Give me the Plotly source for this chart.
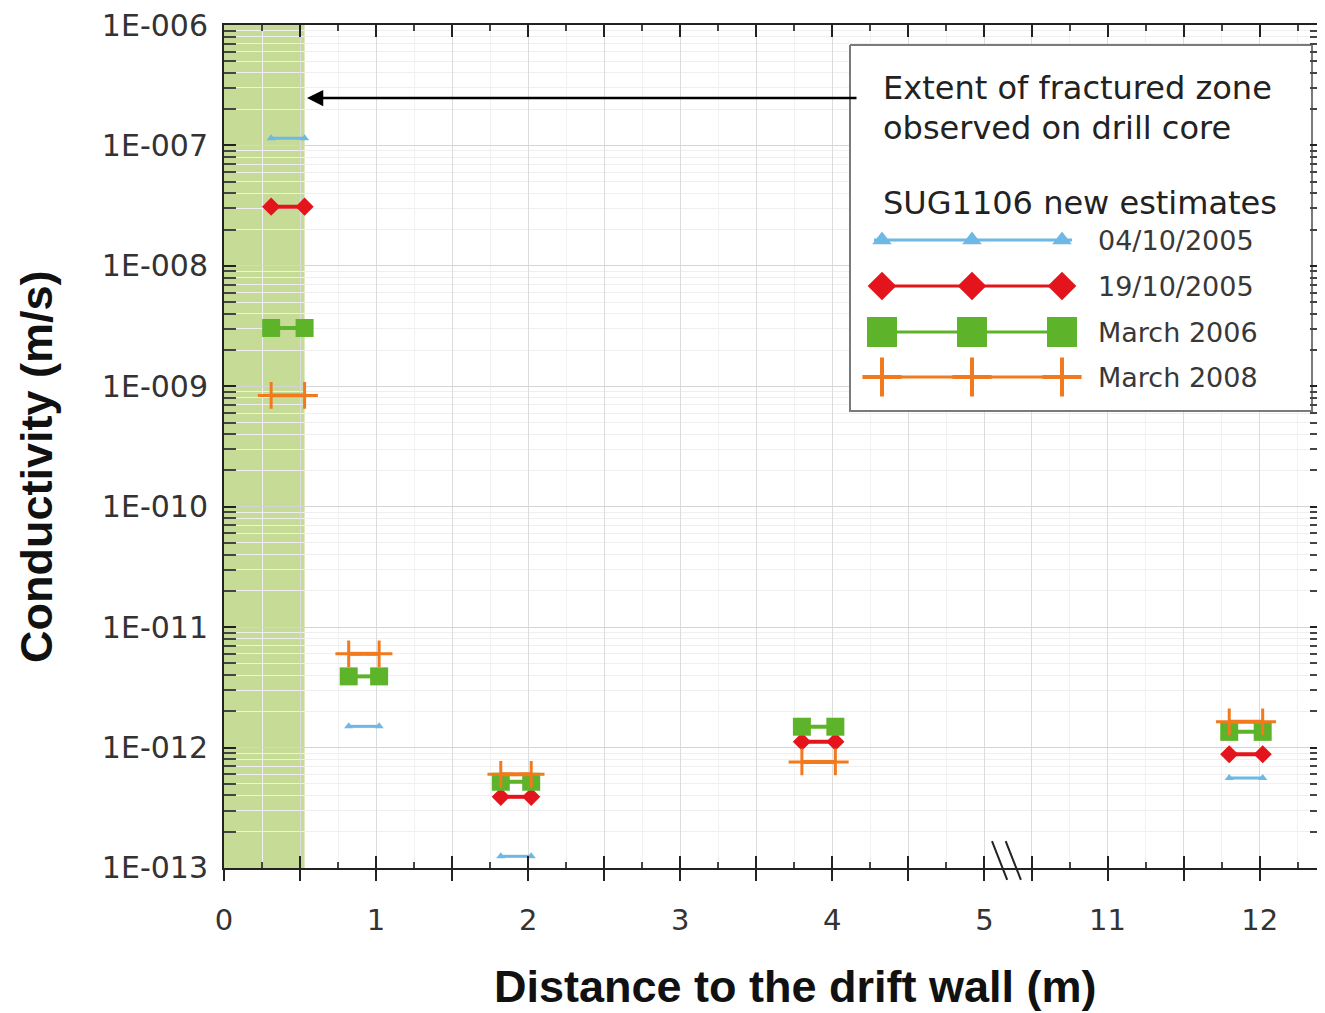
import plotly.graph_objects as go

# ---------------- data ----------------
seg_start = [0.31, 0.82, 1.82, 3.80, 11.80]   # m, start of each test interval
seg_end   = [0.53, 1.02, 2.02, 4.02, 12.02]   # m, end of each test interval

k_0410_2005 = [1.15e-7, 1.5e-12, 1.25e-13, None, 5.6e-13]
k_1910_2005 = [3.1e-8, None, 3.9e-13, 1.12e-12, 8.8e-13]
k_mar_2006  = [3.05e-9, 3.9e-12, 5.2e-13, 1.49e-12, 1.35e-12]
k_mar_2008  = [8.4e-10, 6.0e-12, 6.0e-13, 7.6e-13, 1.64e-12]

series_names = ["04/10/2005", "19/10/2005", "March 2006", "March 2008"]

fracture_zone = [0.0, 0.53]

x_major = [0, 0.5, 1, 1.5, 2, 2.5, 3, 3.5, 4, 4.5, 5, 10.5, 11, 11.5, 12]
x_labels = {0: "0", 1: "1", 2: "2", 3: "3", 4: "4", 5: "5", 11: "11", 12: "12"}
x_minor = [0.25, 0.75, 1.25, 1.75, 2.25, 2.75, 3.25, 3.75, 4.25, 4.75,
           10.75, 11.25, 11.75, 12.25]

y_decades = [-13, -12, -11, -10, -9, -8, -7, -6]
y_labels = ["1E-013", "1E-012", "1E-011", "1E-010", "1E-009", "1E-008", "1E-007", "1E-006"]

# ---------------- broken x axis (5 ... 10.5 squeezed) ----------------
def xpos(d):
    return d if d <= 5.2 else d - 5.19

FONT = "DejaVu Sans"
BLUE, RED, GREEN, ORANGE = "#6db8e4", "#e3141c", "#5db42a", "#f27a1e"

styles = [
    dict(color=BLUE, symbol="triangle-up", size=8, lw=3, mlw=0, lsize=17, lmlw=0),
    dict(color=RED, symbol="diamond", size=14, lw=4, mlw=0, lsize=22, lmlw=0),
    dict(color=GREEN, symbol="square", size=18, lw=4, mlw=0, lsize=30, lmlw=0),
    dict(color=ORANGE, symbol="cross-thin", size=19, lw=4, mlw=3, lsize=28, lmlw=4),
]
all_vals = [k_0410_2005, k_1910_2005, k_mar_2006, k_mar_2008]

fig = go.Figure()

for name, vals, st in zip(series_names, all_vals, styles):
    xs, ys = [], []
    for s, e, v in zip(seg_start, seg_end, vals):
        if v is None:
            continue
        xs += [xpos(s), xpos(e), None]
        ys += [v, v, None]
    fig.add_trace(go.Scatter(
        x=xs, y=ys, mode="lines+markers", name=name, showlegend=False,
        line=dict(color=st["color"], width=st["lw"]),
        marker=dict(symbol=st["symbol"], size=st["size"], color=st["color"], opacity=1,
                    line=dict(color=st["color"], width=st["mlw"])),
    ))

# dummy trace for overlay axis drawing outward ticks
fig.add_trace(go.Scatter(x=[None], y=[None], xaxis="x3", yaxis="y", showlegend=False))

# ---------------- custom legend (page-pixel coordinates on x2/y2) ----------------
fig.add_trace(go.Scatter(
    x=[850, 1312, 1312, 850, 850], y=[45, 45, 411, 411, 45],
    mode="lines", fill="toself", fillcolor="white",
    line=dict(color="#7a7a7a", width=2), xaxis="x2", yaxis="y2",
    showlegend=False, hoverinfo="skip"))

leg_rows = [240, 286, 332, 377]
for name, st, yrow in zip(series_names, styles, leg_rows):
    fig.add_trace(go.Scatter(
        x=[874, 882, 972, 1062, 1072], y=[yrow] * 5, mode="lines+markers",
        xaxis="x2", yaxis="y2", showlegend=False, hoverinfo="skip",
        line=dict(color=st["color"], width=3),
        marker=dict(symbol=st["symbol"], size=[0, st["lsize"], st["lsize"], st["lsize"], 0],
                    color=st["color"], opacity=1,
                    line=dict(color=st["color"], width=st["lmlw"]))))

annotations = []
for name, yrow in zip(series_names, leg_rows):
    annotations.append(dict(x=1096, y=yrow, xref="x2", yref="y2", text=name,
                            showarrow=False, xanchor="left", yanchor="middle",
                            font=dict(family=FONT, size=27, color="#383838")))
annotations += [
    dict(x=881, y=88, xref="x2", yref="y2", text="Extent of fractured zone",
         showarrow=False, xanchor="left", yanchor="middle",
         font=dict(family=FONT, size=32, color="#222")),
    dict(x=881, y=128, xref="x2", yref="y2", text="observed on drill core",
         showarrow=False, xanchor="left", yanchor="middle",
         font=dict(family=FONT, size=32, color="#222")),
    dict(x=881, y=203, xref="x2", yref="y2", text="SUG1106 new estimates",
         showarrow=False, xanchor="left", yanchor="middle",
         font=dict(family=FONT, size=32, color="#222")),
    # arrow pointing to the fractured zone
    dict(x=307, y=98, xref="x2", yref="y2", ax=858, ay=98, axref="x2", ayref="y2",
         text="", showarrow=True, arrowhead=2, arrowsize=1.3, arrowwidth=2.5,
         arrowcolor="black"),
    # axis titles
    dict(x=(795 - 224) / 1098, y=(868 - 986) / 843, xref="paper", yref="paper",
         text="<b>Distance to the drift wall (m)</b>", showarrow=False,
         xanchor="center", yanchor="middle",
         font=dict(family="Liberation Sans", size=45, color="#111")),
    dict(x=(36 - 224) / 1098, y=(868 - 467) / 843, xref="paper", yref="paper",
         text="<b>Conductivity (m/s)</b>", showarrow=False, textangle=-90,
         xanchor="center", yanchor="middle",
         font=dict(family="Liberation Sans", size=45, color="#111")),
]

shapes = [
    dict(type="rect", xref="x", yref="paper", x0=xpos(fracture_zone[0]),
         x1=xpos(fracture_zone[1]), y0=0, y1=1, fillcolor="#c6dc96",
         line=dict(width=0), layer="below"),
    # axis break marks
    dict(type="line", xref="x", yref="paper", x0=5.05, x1=5.15, y0=0.032, y1=-0.014,
         line=dict(color="#222", width=2)),
    dict(type="line", xref="x", yref="paper", x0=5.14, x1=5.24, y0=0.032, y1=-0.014,
         line=dict(color="#222", width=2)),
]

y_minor = [k * 10.0 ** d for d in y_decades[:-1] for k in range(2, 10)]

# page has an 8px body margin: figure is placed at (8, 8)
fig.update_layout(
    width=1317, height=1005,
    margin=dict(l=216, r=3, t=17, b=145, autoexpand=False),
    paper_bgcolor="white", plot_bgcolor="white",
    showlegend=False,
    annotations=annotations, shapes=shapes,
    xaxis=dict(
        range=[0, 7.22], tickmode="array", automargin=False,
        tickvals=[xpos(v) for v in x_major],
        ticktext=[x_labels.get(v, "") for v in x_major],
        ticks="inside", ticklen=12, tickwidth=2, tickcolor="#222",
        showline=True, linecolor="#222", linewidth=2, mirror="allticks",
        showgrid=True, gridcolor="#dcdcdc", gridwidth=1,
        minor=dict(tickmode="array", tickvals=[xpos(v) for v in x_minor],
                   ticks="inside", ticklen=6, tickcolor="#444",
                   showgrid=True, gridcolor="#f1f1f1"),
        tickfont=dict(family=FONT, size=29, color="#333"),
        ticklabelstandoff=25, zeroline=False,
    ),
    xaxis3=dict(
        range=[0, 7.22], overlaying="x", anchor="y", side="bottom", automargin=False,
        tickmode="array", tickvals=[xpos(v) for v in x_major],
        ticks="outside", ticklen=12, tickwidth=2, tickcolor="#222",
        showticklabels=False, showgrid=False, showline=False, zeroline=False,
    ),
    yaxis=dict(
        type="log", range=[-13.0001, -5.9999], tickmode="array", automargin=False,
        tickvals=[10.0 ** d for d in y_decades], ticktext=y_labels,
        ticks="inside", ticklen=12, tickwidth=2, tickcolor="#222",
        showline=True, linecolor="#222", linewidth=2, mirror="allticks",
        showgrid=True, gridcolor="#d4d4d4", gridwidth=1,
        minor=dict(tickmode="array", tickvals=y_minor, ticks="inside",
                   ticklen=6, tickcolor="#444", showgrid=True, gridcolor="#efefef"),
        tickfont=dict(family=FONT, size=30, color="#333"),
        ticklabelstandoff=8, ticklabeloverflow="allow", zeroline=False,
    ),
    xaxis2=dict(range=[224, 1322], overlaying="x", anchor="y2", visible=False,
                fixedrange=True, automargin=False),
    yaxis2=dict(range=[868, 25], overlaying="y", anchor="x2", visible=False,
                fixedrange=True, automargin=False),
)

fig.write_html("out.html")
